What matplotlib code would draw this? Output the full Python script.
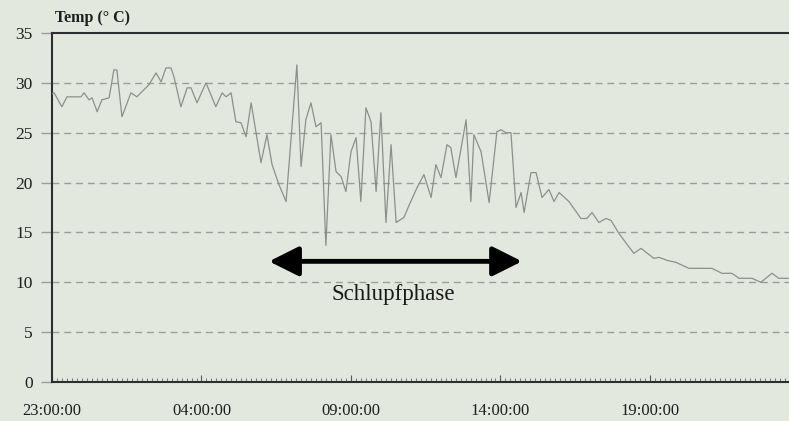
import matplotlib
matplotlib.use('Agg')
import matplotlib.pyplot as plt
from matplotlib.patches import FancyArrowPatch
from matplotlib.ticker import MultipleLocator

# Stunden seit 23:00:00
stunden = [0.00, 0.07, 0.33, 0.50, 0.97, 1.07, 1.24, 1.34, 1.51, 1.67, 1.91, 2.07,
           2.17, 2.34, 2.64, 2.84, 3.24, 3.48, 3.65, 3.81, 3.98, 4.08, 4.31, 4.52,
           4.65, 4.85, 5.15, 5.48, 5.69, 5.82, 5.99, 6.15, 6.32, 6.49, 6.66, 6.99,
           7.19, 7.36, 7.59, 7.83, 8.19, 8.33, 8.49, 8.66, 8.83, 9.00, 9.16, 9.33,
           9.50, 9.67, 9.83, 10.00, 10.17, 10.33, 10.50, 10.67, 10.84, 11.00, 11.17,
           11.34, 11.51, 11.77, 11.94, 12.21, 12.44, 12.68, 12.84, 13.01, 13.21,
           13.34, 13.51, 13.85, 14.01, 14.11, 14.35, 14.62, 14.88, 15.02, 15.18,
           15.35, 15.52, 15.69, 15.79, 16.02, 16.19, 16.39, 16.62, 16.79, 16.96,
           17.29, 17.69, 17.89, 18.06, 18.29, 18.53, 18.70, 18.96, 19.46, 19.70,
           20.13, 20.30, 20.57, 20.87, 21.30, 22.07, 22.41, 22.74, 22.98, 23.41,
           23.71, 24.08, 24.31, 24.62]
temp = [28.9, 29.0, 27.6, 28.6, 28.6, 29.0, 28.3, 28.5, 27.1, 28.3, 28.5, 31.3,
        31.3, 26.6, 29.0, 28.6, 29.8, 31.0, 30.1, 31.5, 31.5, 30.6, 27.6, 29.5,
        29.5, 28.0, 30.0, 27.6, 29.0, 28.6, 29.0, 26.1, 26.0, 24.6, 28.0, 22.0,
        24.8, 21.8, 19.8, 18.1, 31.8, 21.6, 26.3, 28.0, 25.6, 26.0, 13.7, 24.8,
        21.1, 20.6, 19.1, 23.1, 24.5, 18.1, 27.5, 26.1, 19.1, 27.0, 16.0,
        23.8, 16.0, 16.5, 17.7, 19.5, 20.8, 18.5, 21.8, 20.5, 23.8,
        23.5, 20.5, 26.3, 18.1, 24.8, 23.1, 18.0, 25.1, 25.3, 25.0,
        25.0, 17.5, 19.0, 17.0, 21.0, 21.0, 18.5, 19.3, 18.1, 19.0,
        18.1, 16.4, 16.4, 17.0, 16.0, 16.4, 16.2, 14.9, 12.9, 13.4,
        12.4, 12.5, 12.2, 12.0, 11.4, 11.4, 10.9, 10.9, 10.4, 10.4,
        10.0, 10.9, 10.4, 10.4]

x_ticks = [0, 5, 10, 15, 20]
x_labels = ['23:00:00', '04:00:00', '09:00:00', '14:00:00', '19:00:00']
y_ticks = [0, 5, 10, 15, 20, 25, 30, 35]

plt.rcParams['font.family'] = ['Liberation Serif', 'DejaVu Serif']
bg = '#e3e8df'

fig = plt.figure(figsize=(7.89, 4.21), dpi=100, facecolor=bg)
ax = fig.add_axes([52 / 789, 39 / 421, 738.5 / 789, 349 / 421])
ax.set_facecolor(bg)

for y in [5, 10, 15, 20, 25, 30]:
    ax.axhline(y, color='#9a9d98', lw=1.0, ls=(0, (5, 3.5)), zorder=1)

ax.plot(stunden, temp, color='#8d8f8b', lw=0.9, zorder=3)

ax.set_xlim(0, 24.7)
ax.set_ylim(0, 35)
ax.set_xticks(x_ticks)
ax.set_xticklabels(x_labels, fontsize=12, color='#1e1e1e')
ax.xaxis.set_minor_locator(MultipleLocator(1 / 6))
ax.set_yticks(y_ticks)
ax.tick_params(axis='y', direction='out', length=8, width=1, color='#9a9d98',
               labelsize=12.5, labelcolor='#1e1e1e', pad=6)
ax.tick_params(axis='x', which='major', direction='in', length=5, width=0.8,
               color='#555555', pad=15)
ax.tick_params(axis='x', which='minor', direction='in', length=3, width=0.6,
               color='#666666')

for s in ['left', 'top', 'bottom']:
    ax.spines[s].set_color('#2e2e2e')
    ax.spines[s].set_linewidth(1.5)
ax.spines['right'].set_visible(False)

fig.text(55 / 789, 1 - 18 / 421, 'Temp (° C)', fontsize=11.5, fontweight='bold',
         ha='left', va='center', color='#1e1e1e')

arrow = FancyArrowPatch((7.26, 12.1), (15.72, 12.1),
                        arrowstyle='<|-|>,head_length=0.9,head_width=0.45',
                        mutation_scale=20, lw=3.5, color='black', zorder=4,
                        shrinkA=0, shrinkB=0)
ax.add_patch(arrow)
ax.text(11.42, 8.8, 'Schlupfphase', fontsize=16.5, ha='center', va='center',
        color='#1a1a1a')

fig.savefig('out.png', dpi=100, facecolor=bg)
